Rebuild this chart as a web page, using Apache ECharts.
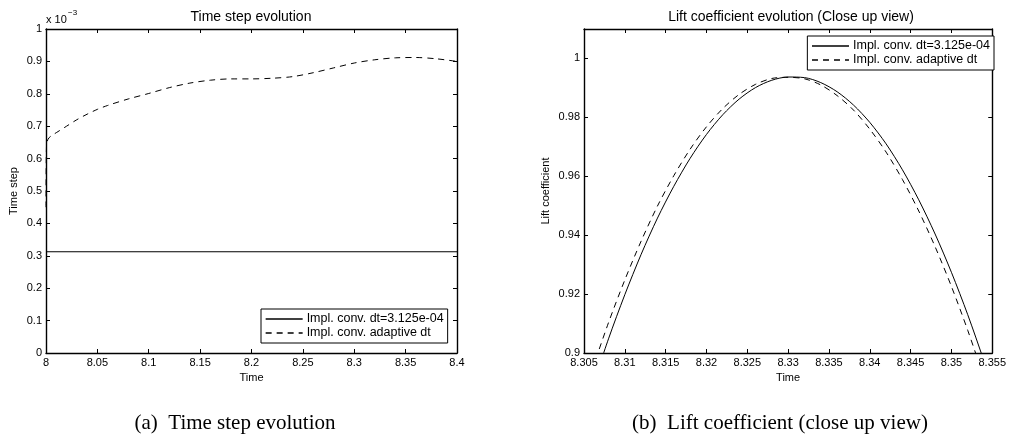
<!DOCTYPE html>
<html>
<head>
<meta charset="utf-8">
<script src="https://cdn.jsdelivr.net/npm/echarts@6/dist/echarts.min.js"></script>
<style>
html,body{margin:0;padding:0;background:#fff;}
#c{width:1009px;height:435px;}
</style>
</head>
<body>
<div id="c"></div>
<script>
// ---- Left panel: time step (values in units of 1e-3) ----
var dtTimeFixed = [8.0, 8.4];
var dtFixed = [0.3125, 0.3125];
var dtTimeAdaptive = [8.0, 8.0005, 8.002, 8.005, 8.01, 8.02, 8.03, 8.04, 8.05, 8.06, 8.08, 8.10, 8.12, 8.14, 8.16, 8.18, 8.20, 8.22, 8.24, 8.26, 8.28, 8.30, 8.32, 8.34, 8.36, 8.38, 8.40];
var dtAdaptive = [0.45, 0.64, 0.66, 0.67, 0.68, 0.70, 0.72, 0.737, 0.752, 0.764, 0.784, 0.801, 0.819, 0.833, 0.842, 0.846, 0.846, 0.848, 0.853, 0.865, 0.880, 0.895, 0.905, 0.911, 0.912, 0.908, 0.900];
var leftXTicks = {min: 8.0, max: 8.4, step: 0.05};
var leftYTicks = {min: 0, max: 1, step: 0.1};

// ---- Right panel: lift coefficient close-up ----
var clTime = [8.306, 8.308, 8.310, 8.312, 8.314, 8.316, 8.318, 8.320, 8.322, 8.324, 8.326, 8.328, 8.330, 8.332, 8.334, 8.336, 8.338, 8.340, 8.342, 8.344, 8.346, 8.348, 8.350, 8.352, 8.354, 8.355];
var clFixed = [0.8883, 0.9048, 0.9198, 0.9335, 0.9458, 0.9566, 0.9661, 0.9742, 0.9809, 0.9862, 0.9901, 0.9926, 0.9937, 0.9935, 0.9918, 0.9887, 0.9842, 0.9783, 0.9710, 0.9622, 0.9520, 0.9404, 0.9274, 0.9130, 0.8972, 0.8890];
var clAdaptive = [0.8943, 0.9103, 0.9248, 0.9380, 0.9499, 0.9602, 0.9692, 0.9768, 0.9830, 0.9878, 0.9912, 0.9932, 0.9936, 0.9931, 0.9910, 0.9874, 0.9825, 0.9760, 0.9682, 0.9589, 0.9482, 0.9361, 0.9226, 0.9077, 0.8914, 0.8830];
var rightXTicks = {min: 8.305, max: 8.355, step: 0.005};
var rightYTicks = {min: 0.9, max: 1.01, step: 0.02};

var nameFixed = 'Impl. conv. dt=3.125e-04';
var nameAdaptive = 'Impl. conv. adaptive dt';

function zip(a, b) { return a.map(function (v, i) { return [v, b[i]]; }); }
function fmt(d) { return function (v) { return String(+(+v).toFixed(d)); }; }

var FONT = 'Liberation Sans';
var lbl = {color: '#000', fontFamily: FONT, fontSize: 11};
var axLine = {show: true, onZero: false, lineStyle: {color: '#000', width: 1.4}};
var tick = {show: true, inside: true, length: 4, lineStyle: {color: '#000', width: 1}};

function xAxes(gi, t, d) {
  return [
    {type: 'value', gridIndex: gi, position: 'bottom', min: t.min, max: t.max, interval: t.step,
     axisLine: axLine, axisTick: tick, splitLine: {show: false},
     axisLabel: Object.assign({margin: 4, formatter: fmt(d)}, lbl),
     name: 'Time', nameLocation: 'middle', nameGap: 18,
     nameTextStyle: {color: '#000', fontFamily: FONT, fontSize: 11}},
    {type: 'value', gridIndex: gi, position: 'top', min: t.min, max: t.max, interval: t.step,
     axisLine: axLine, axisTick: tick, splitLine: {show: false}, axisLabel: {show: false}}
  ];
}
function yAxes(gi, t, d, name, gap, showMax) {
  return [
    {type: 'value', gridIndex: gi, position: 'left', min: t.min, max: t.max, interval: t.step,
     axisLine: axLine, axisTick: tick, splitLine: {show: false},
     axisLabel: Object.assign({margin: 4, showMaxLabel: showMax, formatter: fmt(d)}, lbl),
     name: name, nameLocation: 'middle', nameGap: gap, nameRotate: 90,
     nameTextStyle: {color: '#000', fontFamily: FONT, fontSize: 11}},
    {type: 'value', gridIndex: gi, position: 'right', min: t.min, max: t.max, interval: t.step,
     axisLine: axLine, axisTick: tick, splitLine: {show: false}, axisLabel: {show: false}}
  ];
}

var solid = {color: '#000', width: 1, type: 'solid'};
var dashed = {color: '#000', width: 1, type: [6, 5]};

function legendBox(pos) {
  return Object.assign({
    orient: 'vertical', data: [nameFixed, nameAdaptive],
    itemWidth: 37, itemHeight: 10, itemGap: 0, padding: [3, 4, 3, 4],
    borderColor: '#000', borderWidth: 1, backgroundColor: '#fff',
    itemStyle: {opacity: 0},
    lineStyle: {width: 1.3, color: '#000'},
    textStyle: {color: '#000', fontFamily: FONT, fontSize: 12.5, lineHeight: 14, padding: [0, 0, 0, -1]},
    selectedMode: false
  }, pos);
}

var option = {
  backgroundColor: '#fff',
  animation: false,
  title: [
    {text: 'Time step evolution', left: 246, top: 5, textAlign: 'center',
     textStyle: {color: '#000', fontFamily: FONT, fontSize: 14, fontWeight: 'normal'}},
    {text: 'Lift coefficient evolution (Close up view)', left: 786, top: 5, textAlign: 'center',
     textStyle: {color: '#000', fontFamily: FONT, fontSize: 14, fontWeight: 'normal'}}
  ],
  grid: [
    {left: 46, top: 29, width: 411, height: 324, containLabel: false},
    {left: 584, top: 29, width: 412, height: 324, containLabel: false}
  ],
  xAxis: xAxes(0, leftXTicks, 2).concat(xAxes(1, rightXTicks, 3)),
  yAxis: yAxes(0, leftYTicks, 1, 'Time step', 27, true).concat(yAxes(1, rightYTicks, 2, 'Lift coefficient', 33, false)),
  legend: [
    legendBox({left: 261, top: 309}),
    legendBox({right: 15, top: 36})
  ],
  series: [
    {name: nameFixed, type: 'line', xAxisIndex: 0, yAxisIndex: 0, data: zip(dtTimeFixed, dtFixed),
     showSymbol: false, symbol: 'none', lineStyle: solid, itemStyle: {color: '#000'}},
    {name: nameAdaptive, type: 'line', xAxisIndex: 0, yAxisIndex: 0, data: zip(dtTimeAdaptive, dtAdaptive),
     showSymbol: false, symbol: 'none', smooth: 0.3, lineStyle: dashed, itemStyle: {color: '#000'}},
    {name: nameFixed, type: 'line', xAxisIndex: 2, yAxisIndex: 2, data: zip(clTime, clFixed),
     showSymbol: false, symbol: 'none', smooth: 0.3, lineStyle: solid, itemStyle: {color: '#000'}},
    {name: nameAdaptive, type: 'line', xAxisIndex: 2, yAxisIndex: 2, data: zip(clTime, clAdaptive),
     showSymbol: false, symbol: 'none', smooth: 0.3, lineStyle: dashed, itemStyle: {color: '#000'}}
  ],
  graphic: [
    {type: 'text', left: 46, top: 14, style: {text: 'x 10', fill: '#000', font: '11px "Liberation Sans"'}},
    {type: 'text', left: 68, top: 9, style: {text: '\u22123', fill: '#000', font: '8px "Liberation Sans"'}},
    {type: 'text', x: 235, y: 423, style: {text: '(a)  Time step evolution', fill: '#000', font: '21px "Liberation Serif"', textAlign: 'center', textVerticalAlign: 'middle'}},
    {type: 'text', x: 780, y: 423, style: {text: '(b)  Lift coefficient (close up view)', fill: '#000', font: '21px "Liberation Serif"', textAlign: 'center', textVerticalAlign: 'middle'}}
  ]
};

var chart = echarts.init(document.getElementById('c'), null, {renderer: 'canvas'});
chart.setOption(option);
</script>
</body>
</html>
